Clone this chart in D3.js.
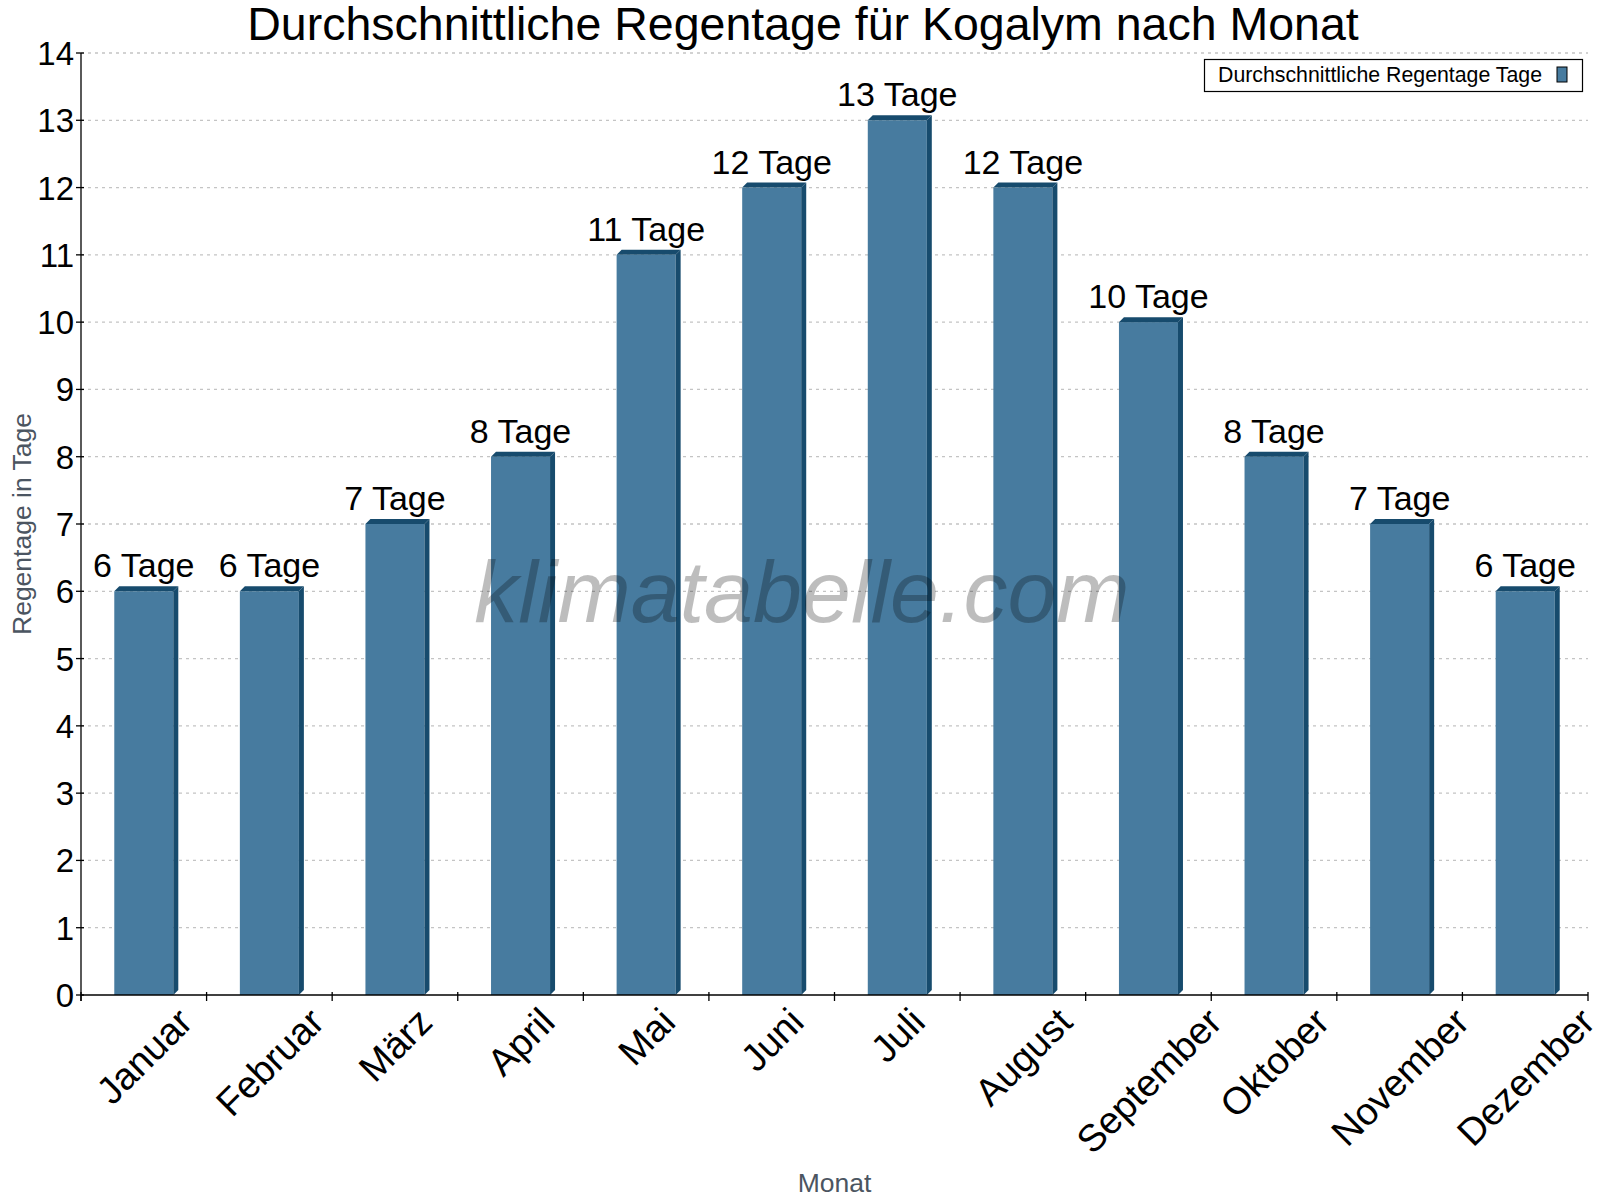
<!DOCTYPE html>
<html>
<head>
<meta charset="utf-8">
<script src="https://cdn.jsdelivr.net/npm/d3@7"></script>
<style>
  body { margin: 0; background: #fff; }
  svg text { font-family: "Liberation Sans", Arial, sans-serif; }
</style>
</head>
<body>
<div id="chart-container"></div>
<script>
'use strict';

const months = ['Januar', 'Februar', 'März', 'April', 'Mai', 'Juni', 'Juli',
  'August', 'September', 'Oktober', 'November', 'Dezember'];
const rainDays = [6, 6, 7, 8, 11, 12, 13, 12, 10, 8, 7, 6];
const yTicks = [0, 1, 2, 3, 4, 5, 6, 7, 8, 9, 10, 11, 12, 13, 14];
const seriesName = 'Durchschnittliche Regentage Tage';
const unit = 'Tage';

var width = 1600;
var height = 1200;
var margin = { top: 53, right: 12, bottom: 205, left: 81 };
var front = '#477b9f';
var dark = '#174b6d';
var depth = 5;

var svg = d3.select('#chart-container')
  .append('svg')
  .attr('width', width)
  .attr('height', height);

var x = d3.scaleBand()
  .domain(months)
  .range([margin.left, width - margin.right])
  .paddingInner(0.53)
  .paddingOuter(0.265);

var y = d3.scaleLinear()
  .domain([0, 14])
  .range([height - margin.bottom, margin.top]);

var x0 = x.range()[0];
var x1 = x.range()[1];

// dotted grid lines
svg.append('g')
  .selectAll('line')
  .data(yTicks.filter(d => d > 0))
  .enter()
  .append('line')
  .attr('x1', x0)
  .attr('x2', x1)
  .attr('y1', d => y(d))
  .attr('y2', d => y(d))
  .attr('stroke', '#c4c4c4')
  .attr('stroke-width', 1.3)
  .attr('stroke-dasharray', '3,4');

// bars with a small 3d look
var bars = svg.append('g')
  .selectAll('g')
  .data(rainDays)
  .enter()
  .append('g');

bars.append('rect')
  .attr('x', (d, i) => x(months[i]))
  .attr('y', d => y(d))
  .attr('width', x.bandwidth())
  .attr('height', d => y(0) - y(d))
  .attr('fill', front);

// side face
bars.append('path')
  .attr('d', function(d, i) {
    var bx = x(months[i]) + x.bandwidth();
    return 'M' + bx + ',' + y(d) +
      'L' + (bx + depth) + ',' + (y(d) - depth) +
      'L' + (bx + depth) + ',' + (y(0) - depth) +
      'L' + bx + ',' + y(0) + 'Z';
  })
  .attr('fill', dark);

// top face
bars.append('path')
  .attr('d', function(d, i) {
    var bx = x(months[i]);
    return 'M' + bx + ',' + y(d) +
      'L' + (bx + depth) + ',' + (y(d) - depth) +
      'L' + (bx + x.bandwidth() + depth) + ',' + (y(d) - depth) +
      'L' + (bx + x.bandwidth()) + ',' + y(d) + 'Z';
  })
  .attr('fill', dark);

// value labels
bars.append('text')
  .attr('x', (d, i) => x(months[i]) + x.bandwidth() / 2)
  .attr('y', d => y(d) - 14)
  .attr('text-anchor', 'middle')
  .attr('font-size', 34)
  .attr('fill', '#000')
  .text(d => d + ' ' + unit);

// watermark
svg.append('text')
  .attr('x', 802)
  .attr('y', 622)
  .attr('text-anchor', 'middle')
  .attr('font-size', 88)
  .attr('font-style', 'italic')
  .attr('fill', '#000')
  .attr('fill-opacity', 0.26)
  .text('klimatabelle.com');

// y axis
var yAxis = svg.append('g');
yAxis.append('line')
  .attr('x1', x0).attr('x2', x0)
  .attr('y1', y(14)).attr('y2', y(0) + 6)
  .attr('stroke', '#000').attr('stroke-width', 1.3);
yAxis.selectAll('.tick')
  .data(yTicks)
  .enter()
  .append('line')
  .attr('x1', x0 - 5).attr('x2', x0 + 3)
  .attr('y1', d => y(d)).attr('y2', d => y(d))
  .attr('stroke', '#000').attr('stroke-width', 1.3);
yAxis.selectAll('text')
  .data(yTicks)
  .enter()
  .append('text')
  .attr('x', x0 - 7)
  .attr('y', d => y(d) + 12)
  .attr('text-anchor', 'end')
  .attr('font-size', 33)
  .text(d => d);

// x axis
var xAxis = svg.append('g');
xAxis.append('line')
  .attr('x1', x0).attr('x2', x1)
  .attr('y1', y(0)).attr('y2', y(0))
  .attr('stroke', '#000').attr('stroke-width', 1.3);
xAxis.selectAll('.tick')
  .data(d3.range(months.length + 1))
  .enter()
  .append('line')
  .attr('x1', i => x0 + i * x.step())
  .attr('x2', i => x0 + i * x.step())
  .attr('y1', y(0) - 3)
  .attr('y2', y(0) + 6)
  .attr('stroke', '#000').attr('stroke-width', 1.3);

// rotated month names, centred under the band, top edge aligned
var labelSize = 38;
var labelTop = y(0) + 10;
xAxis.selectAll('text')
  .data(months)
  .enter()
  .append('text')
  .attr('text-anchor', 'middle')
  .attr('dy', '0.36em')
  .attr('font-size', labelSize)
  .text(d => d)
  .attr('transform', function(d) {
    var w = this.getComputedTextLength();
    var ext = (w + labelSize * 0.72) * Math.SQRT1_2;
    return 'translate(' + (x(d) + x.bandwidth() / 2) + ',' +
      (labelTop + ext / 2) + ') rotate(-45)';
  });

// axis titles
svg.append('text')
  .attr('transform', 'translate(31,' + ((y(0) + y(14)) / 2) + ') rotate(-90)')
  .attr('text-anchor', 'middle')
  .attr('font-size', 26.5)
  .attr('fill', '#4b5561')
  .text('Regentage in Tage');

svg.append('text')
  .attr('x', (x0 + x1) / 2)
  .attr('y', 1192)
  .attr('text-anchor', 'middle')
  .attr('font-size', 26.5)
  .attr('fill', '#4b5561')
  .text('Monat');

// title
svg.append('text')
  .attr('x', 803)
  .attr('y', 40)
  .attr('text-anchor', 'middle')
  .attr('font-size', 46.5)
  .text('Durchschnittliche Regentage für Kogalym nach Monat');

// legend
var legend = svg.append('g');
legend.append('rect')
  .attr('x', 1204.5).attr('y', 59.5)
  .attr('width', 378).attr('height', 32)
  .attr('fill', '#fff')
  .attr('stroke', '#000').attr('stroke-width', 1.2);
legend.append('text')
  .attr('x', 1218)
  .attr('y', 82)
  .attr('font-size', 21.3)
  .text(seriesName);
legend.append('rect')
  .attr('x', 1557).attr('y', 67)
  .attr('width', 10).attr('height', 15)
  .attr('fill', front)
  .attr('stroke', '#000').attr('stroke-width', 1);
</script>
</body>
</html>
